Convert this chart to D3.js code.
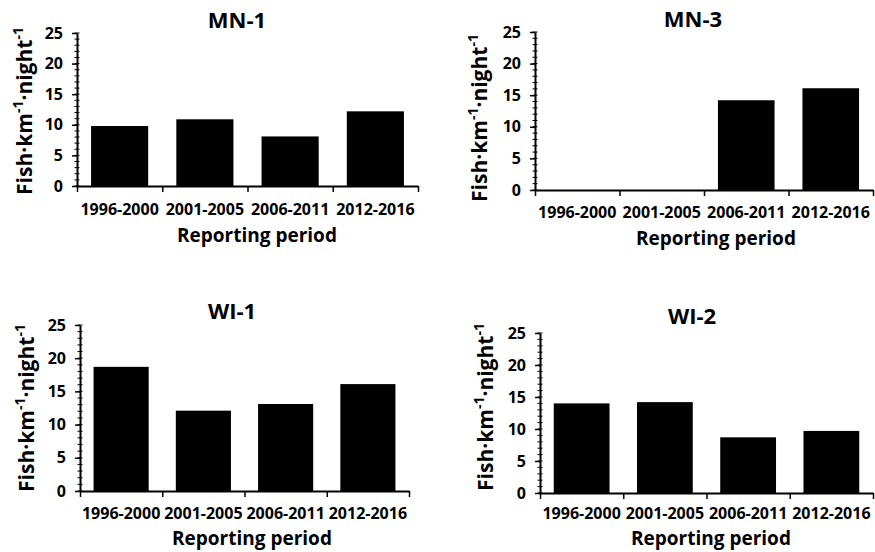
<!DOCTYPE html>
<html>
<head>
<meta charset="utf-8">
<script src="https://cdn.jsdelivr.net/npm/d3@7/dist/d3.min.js"></script>
<style>
  body { margin: 0; background: #fff; }
  text { font-family: 'Open Sans', sans-serif; font-weight: bold; fill: #000; }
</style>
</head>
<body>
<svg width="875" height="552"></svg>
<script>
  // Data
  const periods = ['1996-2000', '2001-2005', '2006-2011', '2012-2016'];
  const sites = ['MN-1', 'MN-3', 'WI-1', 'WI-2'];
  const mn1 = [9.8, 10.9, 8.1, 12.2];
  const mn3 = [0, 0, 14.2, 16.1];
  const wi1 = [18.7, 12.1, 13.1, 16.1];
  const wi2 = [14.0, 14.2, 8.7, 9.7];
  const yTicks = [0, 5, 10, 15, 20, 25];
  const xTitle = 'Reporting period';

  // Panel placement (pixels)
  const panels = [
    {site: sites[0], values: mn1, left: 77,  right: 418, top: 33,  bottom: 186, titleX: 237, titleY: 28,  labX: 25,  labY: 111, tickY: 216, xtX: 257, xtY: 242},
    {site: sites[1], values: mn3, left: 535, right: 873, top: 32,  bottom: 190, titleX: 693, titleY: 27,  labX: 480, labY: 118, tickY: 219, xtX: 716, xtY: 245},
    {site: sites[2], values: wi1, left: 80,  right: 409, top: 325, bottom: 491, titleX: 232, titleY: 319, labX: 27,  labY: 408, tickY: 520, xtX: 252, xtY: 545},
    {site: sites[3], values: wi2, left: 540, right: 873, top: 333, bottom: 493, titleX: 692, titleY: 324, labX: 486, labY: 407, tickY: 520, xtX: 711, xtY: 545}
  ];

  const svg = d3.select('svg');

  panels.forEach(p => drawPanel(p));

  function drawPanel(p) {
    const g = svg.append('g');
    const x = d3.scaleBand().domain(periods).range([p.left, p.right]).paddingInner(0.33).paddingOuter(0.165);
    const xb = d3.scaleLinear().domain([0, periods.length]).range([p.left, p.right]);
    const y = d3.scaleLinear().domain([0, 25]).range([p.bottom, p.top]);

    // bars
    g.selectAll('.bar')
      .data(p.values.map((v, i) => ({period: periods[i], value: v})))
      .enter().append('rect')
      .attr('x', d => x(d.period))
      .attr('width', x.bandwidth())
      .attr('y', d => y(d.value))
      .attr('height', d => y(0) - y(d.value))
      .attr('fill', '#000');

    // minor ticks crossing the y axis
    g.selectAll('.minor')
      .data(d3.range(0, 26))
      .enter().append('line')
      .attr('x1', p.left - 2.5).attr('x2', p.left + 2.5)
      .attr('y1', d => y(d)).attr('y2', d => y(d))
      .attr('stroke', '#000').attr('stroke-width', 1);

    // y axis
    const ya = g.append('g').attr('transform', 'translate(' + p.left + ',0)')
      .call(d3.axisLeft(y).tickValues(yTicks).tickSize(5).tickSizeOuter(0).tickPadding(9));
    ya.select('.domain').attr('stroke-width', 2);
    ya.selectAll('.tick line').attr('stroke-width', 1.5);
    ya.selectAll('.tick text').attr('font-size', 16).attr('font-family', null);

    // x axis line with boundary ticks
    const xa = g.append('g').attr('transform', 'translate(0,' + p.bottom + ')')
      .call(d3.axisBottom(xb).tickValues(d3.range(0, periods.length + 1)).tickFormat('').tickSize(6).tickSizeOuter(0));
    xa.select('.domain').attr('stroke-width', 2);
    xa.selectAll('.tick line').attr('stroke-width', 1.5);

    // category labels
    const xl = g.append('g').attr('transform', 'translate(0,' + (p.tickY - 12) + ')')
      .call(d3.axisBottom(x).tickSize(0).tickPadding(0));
    xl.select('.domain').remove();
    xl.selectAll('.tick text').attr('font-size', 16).attr('font-family', null)
      .attr('dy', '0.71em');

    // titles
    g.append('text').attr('x', p.titleX).attr('y', p.titleY)
      .attr('text-anchor', 'middle').attr('font-size', 22).text(p.site);
    g.append('text').attr('x', p.xtX).attr('y', p.xtY)
      .attr('text-anchor', 'middle').attr('font-size', 19).text(xTitle);

    const yl = g.append('text')
      .attr('transform', 'translate(' + p.labX + ',' + p.labY + ') rotate(-90)')
      .attr('text-anchor', 'middle').attr('dy', '0.35em').attr('font-size', 21);
    yl.append('tspan').text('Fish\u00b7km');
    yl.append('tspan').attr('font-size', 14).attr('dy', -9).text('-1');
    yl.append('tspan').attr('dy', 9).text('\u00b7night');
    yl.append('tspan').attr('font-size', 14).attr('dy', -9).text('-1');
  }
</script>
</body>
</html>
